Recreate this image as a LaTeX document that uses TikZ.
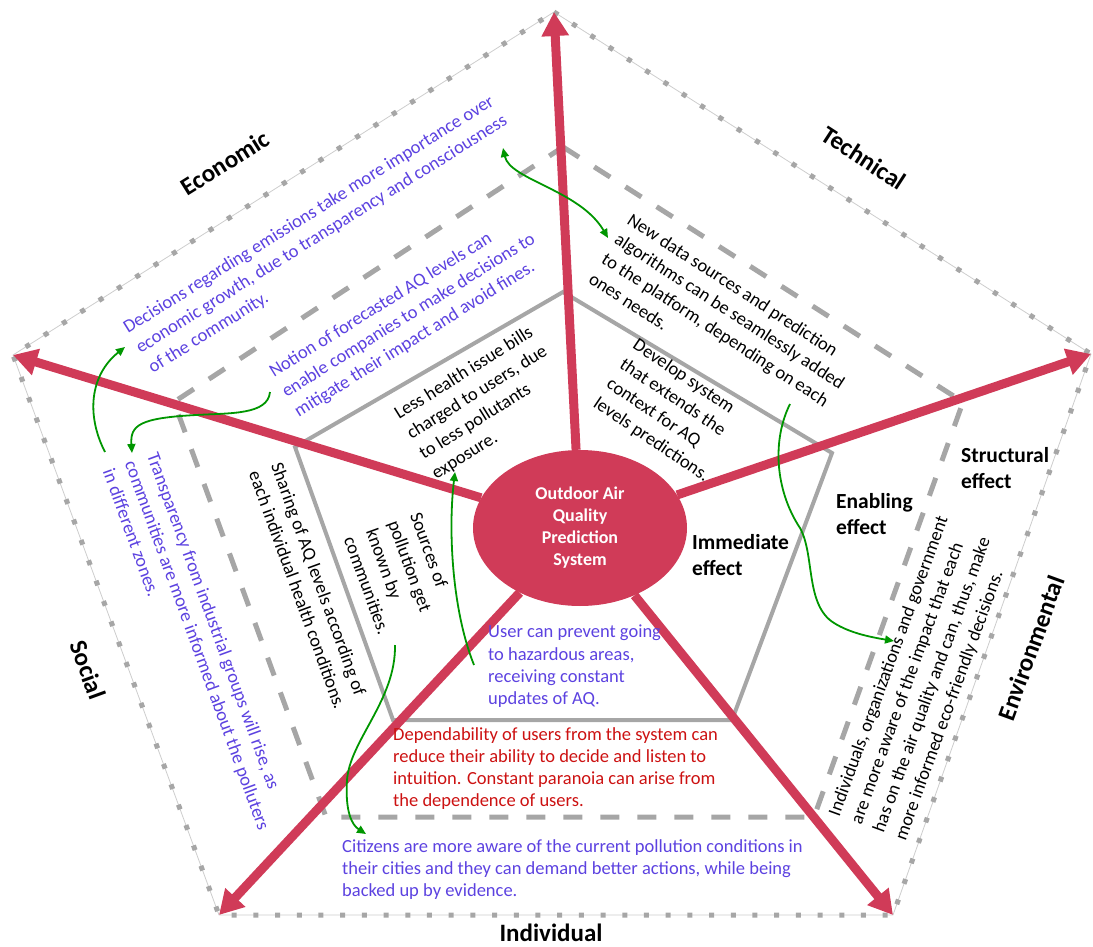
\documentclass[tikz,border=0pt]{standalone}
\usepackage{fontspec}
\setmainfont{Carlito}
\usetikzlibrary{shapes.geometric,arrows.meta}
\pgfdeclarelayer{background}
\pgfsetlayers{background,main}

\definecolor{sysred}{RGB}{208,59,88}
\definecolor{txtblue}{RGB}{92,66,224}
\definecolor{txtred}{RGB}{204,17,17}
\definecolor{linkgreen}{RGB}{0,150,0}
\definecolor{ringgray}{RGB}{166,166,166}
\definecolor{rimgray}{RGB}{205,205,205}

\begin{document}
\begin{tikzpicture}[x=1pt,y=-1pt,
  body/.style={font=\fontsize{18.5}{22.3}\selectfont, inner sep=0pt, align=left},
  slanted/.style={font=\fontsize{18.5}{23.5}\selectfont, inner sep=0pt, align=left},
  effect/.style={font=\fontsize{21.5}{26}\selectfont\bfseries, inner sep=0pt, align=left},
  dimname/.style={font=\fontsize{25}{30}\selectfont\bfseries, inner sep=0pt},
  spoke/.style={sysred, line width=9pt, -{Triangle[length=24pt,width=26pt]}},
  link/.style={linkgreen, line width=1.8pt, -{Triangle[length=9pt,width=8pt]}},
  rimline/.style={rimgray, line width=0.8pt},
  rimdots/.style={ringgray, line width=5pt, dash pattern=on 5pt off 16.7pt},
  midring/.style={ringgray, line width=5pt, dash pattern=on 19pt off 18pt},
  innerring/.style={ringgray, line width=4pt, line join=miter}
]
\useasboundingbox (0,0) rectangle (1093,947);

% outer ring corners
\coordinate (oT)  at (554,12);
\coordinate (oR)  at (1091,354);
\coordinate (oBR) at (893,915);
\coordinate (oBL) at (219,915);
\coordinate (oL)  at (13,355);
% middle ring corners
\coordinate (mT)  at (563,147);
\coordinate (mR)  at (963,402);
\coordinate (mBR) at (814,817);
\coordinate (mBL) at (326,817);
\coordinate (mL)  at (174,402);
% inner ring corners
\coordinate (iT)  at (563,292);
\coordinate (iR)  at (832,453);
\coordinate (iBR) at (732,720);
\coordinate (iBL) at (393,720);
\coordinate (iL)  at (295,447);

% central system
\node[ellipse, fill=sysred, minimum width=214pt, minimum height=156pt, inner sep=0pt,
      text=white, font=\fontsize{18}{22}\selectfont\bfseries, align=center]
  (sys) at (580,528) {Outdoor Air\\Quality\\Prediction\\System};

\begin{pgfonlayer}{background}
  \draw[rimline] (oT) -- (oR) -- (oBR) -- (oBL) -- (oL) -- cycle;
  \draw[rimdots] (oT) -- (oR) -- (oBR) -- (oBL) -- (oL) -- cycle;
  \draw[midring] (mT) -- (mR) -- (mBR) -- (mBL) -- (mL) -- cycle;
  \draw[innerring] (iT) -- (iR) -- (iBR) -- (iBL) -- (iL) -- cycle;
  \draw[spoke] (sys) -- (oT);
  \draw[spoke] (sys) -- (oR);
  \draw[spoke] (sys) -- (oBR);
  \draw[spoke] (sys) -- (oBL);
  \draw[spoke] (sys) -- (oL);
\end{pgfonlayer}

% dimension names
\node[dimname, rotate=32]  (economic)  at (225,163) {Economic};
\node[dimname, rotate=-33] (technical) at (864,158) {Technical};
\node[dimname, rotate=70]  (environ)   at (1031,648) {Environmental};
\node[dimname, rotate=-70] (social)    at (88,670) {Social};
\node[dimname]             (individ)   at (551,933) {Individual};

% effect levels
\node[effect, anchor=north west] (immediate) at (692,534) {Immediate\\effect};
\node[effect, anchor=north west] (enabling)  at (836,493) {Enabling\\effect};
\node[effect, anchor=north west] (structural) at (961,447) {Structural\\effect};

% economic
\node[slanted, txtblue, rotate=32, anchor=north west] (econS) at (121,323)
  {Decisions regarding emissions take more importance over\\economic growth, due to transparency and consciousness\\of the community.};
\node[slanted, txtblue, rotate=32, anchor=north west] (econE) at (267,367)
  {Notion of forecasted AQ levels can\\enable companies to make decisions to\\mitigate their impact and avoid fines.};
\node[slanted, rotate=32, anchor=north west] (econI) at (392,409)
  {Less health issue bills\\charged to users, due\\to less pollutants\\exposure.};

% technical
\node[slanted, rotate=-33, anchor=north west] (techS) at (633,212)
  {New data sources and prediction\\algorithms can be seamlessly added\\to the platform, depending on each\\ones needs.};
\node[slanted, rotate=-34, anchor=north west] (techE) at (639,337)
  {Develop system\\that extends the\\context for AQ\\levels predictions.};

% social
\node[slanted, txtblue, rotate=-70, anchor=north west] (socS) at (159,451)
  {Transparency from industrial groups will rise, as\\communities are more informed about the polluters\\in different zones.};
\node[slanted, rotate=-70, anchor=north west] (socE) at (283,461)
  {Sharing of AQ levels according of\\each individual health conditions.};
\node[slanted, rotate=-70, anchor=north west] (socI) at (422,511)
  {Sources of\\pollution get\\known by\\communities.};

% environmental
\node[slanted, rotate=70, anchor=north west] (envS) at (827,813)
  {Individuals, organizations and government\\are more aware of the impact that each\\has on the air quality and can, thus, make\\more informed eco-friendly decisions.};

% individual
\node[body, txtblue, anchor=north west] (indI) at (488,625)
  {User can prevent going\\to hazardous areas,\\receiving constant\\updates of AQ.};
\node[body, txtred, anchor=north west] (indE) at (393,727)
  {Dependability of users from the system can\\reduce their ability to decide and listen to\\intuition. Constant paranoia can arise from\\the dependence of users.};
\node[body, txtblue, anchor=north west] (indS) at (342,839)
  {Citizens are more aware of the current pollution conditions in\\their cities and they can demand better actions, while being\\backed up by evidence.};

% link end points
\coordinate (l1a) at (105,452);  \coordinate (l1b) at (125,347);
\coordinate (l2a) at (270,392);  \coordinate (l2b) at (132,453);
\coordinate (l3a) at (503,148);  \coordinate (l3b) at (608,238);
\coordinate (l4a) at (790,404);  \coordinate (l4b) at (894,641);
\coordinate (l5a) at (474,665);  \coordinate (l5b) at (455,472);
\coordinate (l6a) at (395,645);  \coordinate (l6b) at (366,834);

% links between effects
\draw[link] (l1a) .. controls (86,415) and (90,375) .. (l1b);
\draw[link] (l2a) .. controls (268,415) and (230,413) .. (196,415)
                  .. controls (140,418) and (130,425) .. (l2b);
\draw[link, {Triangle[length=9pt,width=8pt]}-{Triangle[length=9pt,width=8pt]}]
  (l3a) .. controls (510,180) and (580,190) .. (l3b);
\draw[link] (l4a) .. controls (772,440) and (775,490) .. (800,528)
                  .. controls (815,555) and (805,605) .. (834,623)
                  .. controls (850,633) and (870,637) .. (l4b);
\draw[link] (l5a) .. controls (452,610) and (448,530) .. (l5b);
\draw[link] (l6a) .. controls (396,700) and (350,740) .. (347,780)
                  .. controls (345,812) and (352,825) .. (l6b);
\end{tikzpicture}
\end{document}
